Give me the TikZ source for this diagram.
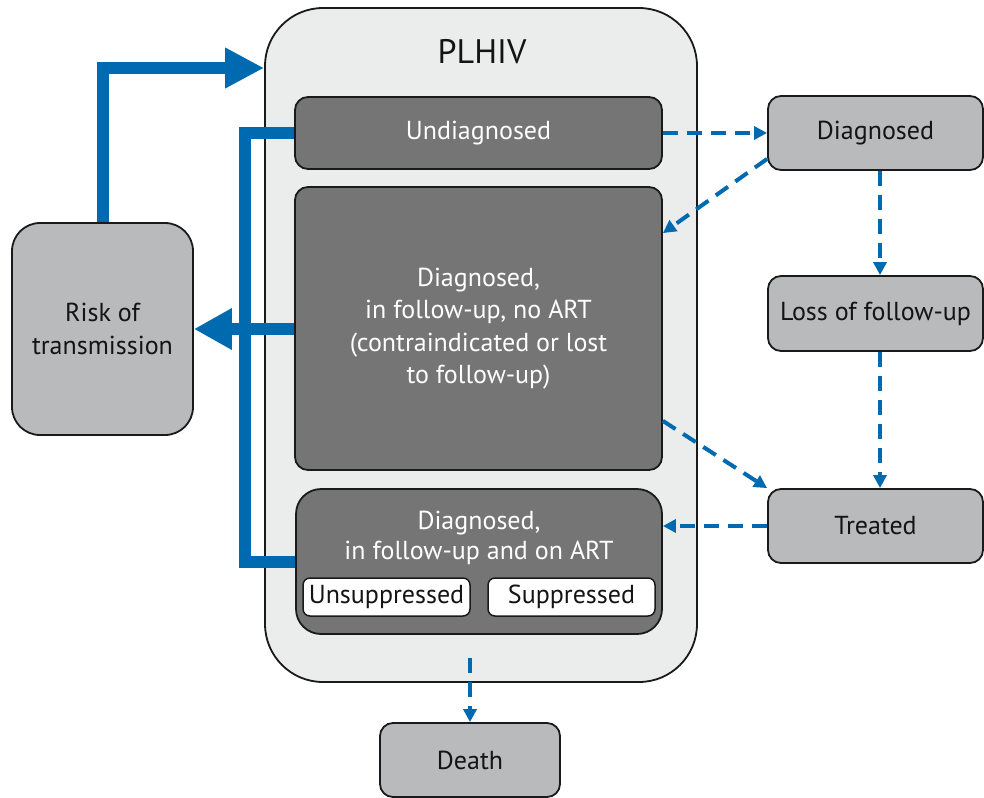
\documentclass[tikz,border=0pt]{standalone}
\usepackage{fontspec}
\setmainfont{PT Sans}
\usetikzlibrary{arrows.meta}
\definecolor{hblue}{HTML}{006AB0}
\definecolor{outerfill}{HTML}{EBEDED}
\definecolor{darkfill}{HTML}{757575}
\definecolor{lightfill}{HTML}{B9BABC}
\definecolor{edge}{HTML}{1A1A1A}
\definecolor{darktext}{HTML}{141414}
\begin{document}
\begin{tikzpicture}[x=1pt,y=-1pt,
  box/.style={draw=edge,line width=1.8pt,rectangle,inner sep=0pt,align=center,font=\fontsize{26}{32.5}\selectfont},
  darkbox/.style={box,fill=darkfill,text=white,rounded corners=13pt},
  lightbox/.style={box,fill=lightfill,text=darktext,rounded corners=13pt},
  whitebox/.style={box,fill=white,text=darktext,rounded corners=7pt,line width=1.5pt},
  thickarrow/.style={draw=hblue,line width=12pt},
  dasharrow/.style={draw=hblue,line width=4pt,dash pattern=on 15pt off 9pt,-{Triangle[length=13pt,width=13pt]}}
]
\useasboundingbox (0,0) rectangle (984,797);

\node[box,fill=outerfill,rounded corners=58pt,minimum width=432pt,minimum height=674pt] (outer) at (481,345) {};
\node[font=\fontsize{34}{36}\selectfont,text=darktext] (plhiv) at (482,52) {PLHIV};

\node[darkbox,minimum width=367pt,minimum height=72pt] (undiag) at (478.5,133) {Undiagnosed};
\node[darkbox,minimum width=367pt,minimum height=283pt] (mid) at (478.5,328.5) {Diagnosed,\\in follow-up, no ART\\(contraindicated or lost\\to follow-up)};
\node[darkbox,rounded corners=25pt,minimum width=366pt,minimum height=145pt] (art) at (479,561.5) {};
\node[text=white,align=center,font=\fontsize{26}{30}\selectfont] (artlabel) at (479,538) {Diagnosed,\\in follow-up and on ART};
\node[whitebox,minimum width=167pt,minimum height=38pt] (unsup) at (386.5,597) {Unsuppressed};
\node[whitebox,minimum width=167pt,minimum height=38pt] (sup) at (571.5,597) {Suppressed};

\node[lightbox,rounded corners=28pt,minimum width=181pt,minimum height=212pt] (risk) at (102.5,329) {Risk of\\transmission};
\node[lightbox,minimum width=215pt,minimum height=74pt] (diag) at (875.5,133) {Diagnosed};
\node[lightbox,minimum width=215pt,minimum height=75pt] (loss) at (875.5,313.5) {Loss of follow-up};
\node[lightbox,minimum width=215pt,minimum height=74pt] (treated) at (875.5,526) {Treated};
\node[lightbox,minimum width=180pt,minimum height=74pt] (death) at (470,760) {Death};

% thick arrows
\draw[thickarrow,-{Triangle[length=39pt,width=38pt]}] (risk.north) |- (outer.west |- 0,68);
\draw[thickarrow,-{Triangle[length=38pt,width=39pt]}] (mid.west |- 0,329) -- (risk.east |- 0,329);
\draw[thickarrow] (undiag.west) -- (244.5,133) |- (art.west);

% dashed arrows
\draw[dasharrow] (undiag.east) -- (diag.west);
\draw[dasharrow] ([yshift=12pt]diag.south west) -- ([yshift=-47pt]mid.north east);
\draw[dasharrow] ([xshift=4.5pt]diag.south) -- ([xshift=4.5pt]loss.north);
\draw[dasharrow] ([xshift=4.5pt]loss.south) -- ([xshift=4.5pt]treated.north);
\draw[dasharrow] ([yshift=50pt]mid.south east) -- (treated.north west);
\draw[dasharrow] (treated.west) -- (art.east |- treated.west);
\coordinate (dstart) at (470,658);
\draw[dasharrow] (dstart) -- (death.north);
\end{tikzpicture}
\end{document}
